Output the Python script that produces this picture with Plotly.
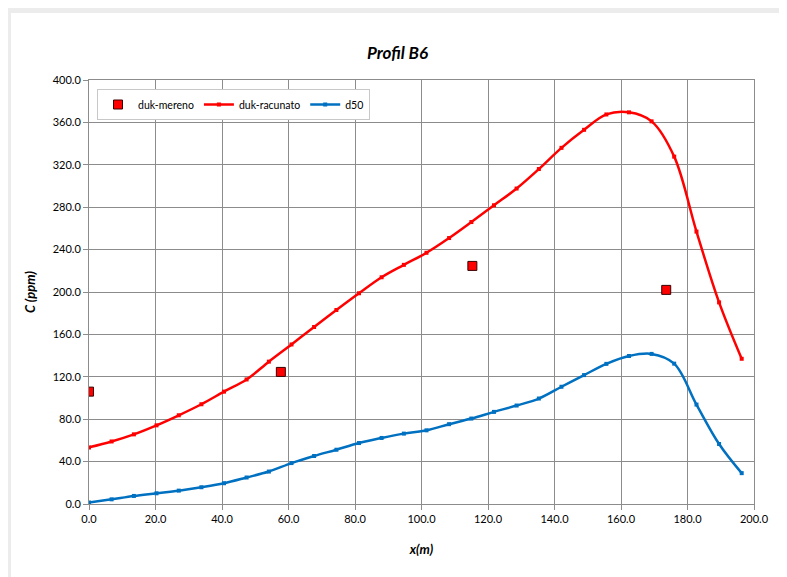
import plotly.graph_objects as go

# Data
x_calc = [0, 6.8, 13.5, 20.3, 27.0, 33.8, 40.6, 47.4, 54.1, 60.9, 67.7, 74.4, 81.2, 88.0,
          94.7, 101.5, 108.3, 115.0, 121.8, 128.6, 135.3, 142.1, 148.9, 155.6, 162.4,
          169.2, 176.0, 182.7, 189.5, 196.3]
duk_racunato = [53.4, 59.0, 65.7, 74.2, 83.7, 94.1, 106.0, 117.5, 134.3, 150.5, 167.0,
                183.0, 198.8, 213.9, 225.6, 237.0, 250.9, 266.0, 281.8, 297.6, 316.0,
                336.0, 353.0, 367.5, 369.5, 361.0, 327.7, 257.0, 190.2, 137.0]
d50 = [1.3, 4.4, 7.6, 10.1, 12.6, 15.8, 19.6, 25.0, 30.6, 38.6, 45.3, 51.2, 57.5, 62.3,
       66.4, 69.5, 75.3, 80.6, 86.9, 92.9, 99.5, 110.6, 121.6, 132.2, 139.6, 141.6,
       132.4, 93.8, 56.6, 29.1]
x_meas = [0.0, 57.7, 115.3, 173.6]
duk_mereno = [106.0, 124.6, 224.6, 202.0]

x_ticks = [0, 20, 40, 60, 80, 100, 120, 140, 160, 180, 200]
y_ticks = [0, 40, 80, 120, 160, 200, 240, 280, 320, 360, 400]

FONT = "Lato, 'Open Sans', sans-serif"

fig = go.Figure()
fig.add_trace(go.Scatter(
    x=x_meas, y=duk_mereno, name="duk-mereno", mode="markers",
    marker=dict(symbol="square", size=9, color="#ff0000",
                line=dict(color="#3a0000", width=1)),
))
fig.add_trace(go.Scatter(
    x=x_calc, y=duk_racunato, name="duk-racunato", mode="lines+markers",
    line=dict(color="#ff0000", width=2.5, shape="spline", smoothing=1.0),
    marker=dict(symbol="square", size=4, color="#ff0000"),
))
fig.add_trace(go.Scatter(
    x=x_calc, y=d50, name="d50", mode="lines+markers",
    line=dict(color="#0070c0", width=2.5, shape="spline", smoothing=1.0),
    marker=dict(symbol="square", size=4, color="#0070c0"),
))

# page has an 8px body margin; figure placed at (8, 8)
OFF = 8
W, H = 787 - OFF, 577 - OFF
L, R, T, B = 89 - OFF, 33, 80 - OFF, 73
pw, ph = W - L - R, H - T - B

def px(xp):
    return (xp - OFF - L) / pw

def py(yp):
    return (H - B - (yp - OFF)) / ph

fig.update_layout(
    width=W, height=H,
    margin=dict(l=L, r=R, t=T, b=B),
    paper_bgcolor="#ececec",
    plot_bgcolor="#ffffff",
    font=dict(family=FONT, size=11, color="#000000"),
    title=dict(text="<b><i>Profil B6</i></b>", x=0.5, xanchor="center",
               y=1 - (53 - OFF) / H, yanchor="middle",
               font=dict(family=FONT, size=17, color="#000000")),
    shapes=[dict(type="rect", xref="paper", yref="paper", layer="below",
                 x0=px(11), x1=px(800), y0=py(590), y1=py(13),
                 fillcolor="#ffffff", line=dict(width=0))],
    legend=dict(orientation="h", x=px(97), y=py(89), xanchor="left", yanchor="top",
                bgcolor="#ffffff", bordercolor="#c8c8c8", borderwidth=1,
                font=dict(family=FONT, size=10.5),
                tracegroupgap=0),
    showlegend=True,
)
fig.update_xaxes(
    range=[0, 200], tickvals=x_ticks, ticktext=[f"{v:.1f}" for v in x_ticks],
    showgrid=True, gridcolor="#8c8c8c", gridwidth=1,
    showline=True, linecolor="#8c8c8c", linewidth=1, mirror=True,
    ticks="outside", ticklen=5, tickcolor="#8c8c8c", zeroline=False,
    title=dict(text="<b><i>x(m)</i></b>", font=dict(family=FONT, size=13), standoff=20),
    tickfont=dict(family=FONT, size=11),
)
fig.update_yaxes(
    range=[0, 400], tickvals=y_ticks, ticktext=[f"{v:.1f}" for v in y_ticks],
    showgrid=True, gridcolor="#8c8c8c", gridwidth=1,
    showline=True, linecolor="#8c8c8c", linewidth=1, mirror=True,
    ticks="outside", ticklen=5, tickcolor="#8c8c8c", zeroline=False,
    title=dict(text="<b><i>C (ppm)</i></b>", font=dict(family=FONT, size=13), standoff=14),
    tickfont=dict(family=FONT, size=11),
)

fig.write_html("out.html")
